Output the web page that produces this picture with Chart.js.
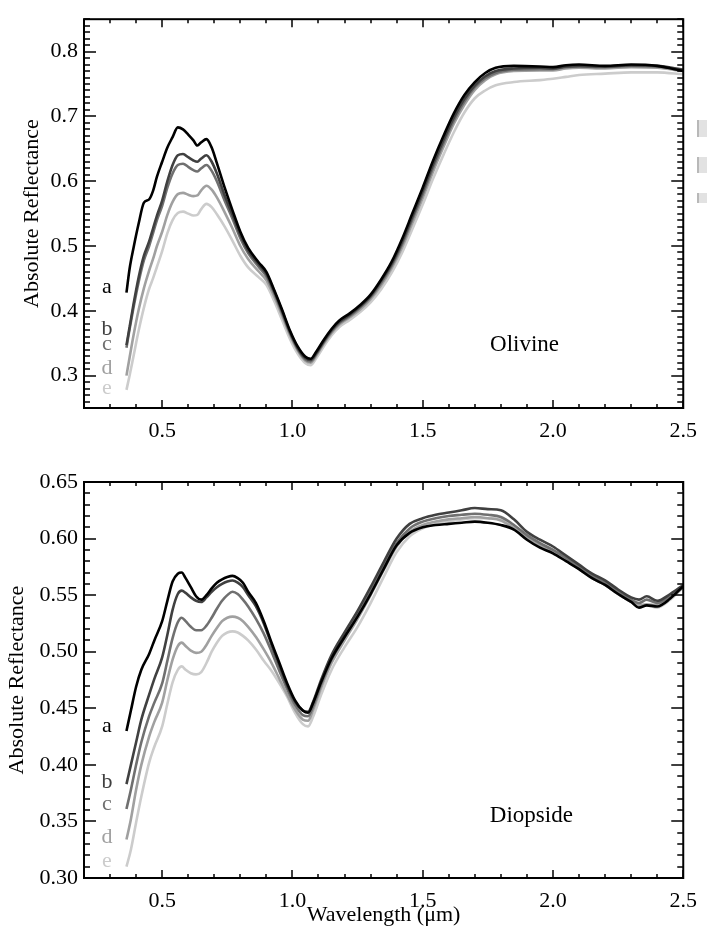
<!DOCTYPE html>
<html>
<head>
<meta charset="utf-8">
<title>Olivine / Diopside reflectance</title>
<script src="https://cdn.jsdelivr.net/npm/chart.js@4.4.1/dist/chart.umd.min.js"></script>
<style>
  body { margin: 0; background: #fff; }
  #wrap { position: relative; width: 707px; height: 934px; overflow: hidden; }
  canvas { position: absolute; left: 0; }
  #top { top: 0; }
  #bottom { top: 460px; }
  .edge { position: absolute; left: 697px; width: 10px; background: #e2e2e2; border-left: 2px solid #b8b8b8; }
</style>
</head>
<body>
<div id="wrap">
  <canvas id="top" width="707" height="460"></canvas>
  <canvas id="bottom" width="707" height="474"></canvas>
  <div class="edge" style="top:120px;height:17px"></div>
  <div class="edge" style="top:157px;height:16px"></div>
  <div class="edge" style="top:193px;height:10px"></div>
</div>
<script>
// Spectra (wavelength in µm, absolute reflectance)
const sampleNames = ['a', 'b', 'c', 'd', 'e'];
const sampleColors = ['#000000', '#404040', '#707070', '#a0a0a0', '#cccccc'];

// labelled tick values
const wavelengthTicks = [0.5, 1.0, 1.5, 2.0, 2.5];
const olivineTicksY = [0.3, 0.4, 0.5, 0.6, 0.7, 0.8];
const diopsideTicksY = [0.30, 0.35, 0.40, 0.45, 0.50, 0.55, 0.60, 0.65];

const wavelengthOl = [
  0.363, 0.375, 0.39, 0.41, 0.43, 0.45, 0.465, 0.48, 0.50, 0.52,
  0.54, 0.56, 0.58, 0.60, 0.62, 0.635, 0.65, 0.67, 0.69, 0.71,
  0.74, 0.77, 0.80, 0.83, 0.87, 0.90, 0.93, 0.96, 0.99, 1.02,
  1.05, 1.07, 1.09, 1.12, 1.15, 1.18, 1.22, 1.26, 1.30, 1.34,
  1.38, 1.42, 1.46, 1.50, 1.54, 1.58, 1.62, 1.66, 1.70, 1.74,
  1.78, 1.85, 1.95, 2.00, 2.05, 2.10, 2.20, 2.30, 2.40, 2.50
];
const olivineA = [
  0.428, 0.465, 0.497, 0.535, 0.567, 0.572, 0.585, 0.607, 0.630, 0.652,
  0.668, 0.683, 0.680, 0.672, 0.663, 0.655, 0.660, 0.665, 0.652, 0.628,
  0.590, 0.555, 0.522, 0.497, 0.475, 0.460, 0.432, 0.402, 0.370, 0.345,
  0.329, 0.326, 0.336, 0.355, 0.372, 0.385, 0.396, 0.409, 0.425, 0.448,
  0.475, 0.510, 0.550, 0.590, 0.632, 0.670, 0.705, 0.733, 0.753, 0.767,
  0.775, 0.778, 0.777, 0.776, 0.779, 0.780, 0.778, 0.780, 0.778, 0.770
];
const olivineB = [
  0.347, 0.375, 0.410, 0.452, 0.485, 0.507, 0.527, 0.547, 0.570, 0.600,
  0.625, 0.640, 0.642, 0.637, 0.632, 0.630, 0.635, 0.640, 0.630, 0.612,
  0.578, 0.548, 0.517, 0.493, 0.472, 0.457, 0.430, 0.400, 0.368, 0.343,
  0.327, 0.324, 0.334, 0.353, 0.370, 0.383, 0.394, 0.407, 0.423, 0.446,
  0.472, 0.506, 0.545, 0.585, 0.626, 0.664, 0.699, 0.727, 0.748, 0.762,
  0.770, 0.774, 0.775, 0.774, 0.777, 0.778, 0.777, 0.779, 0.778, 0.772
];
const olivineC = [
  0.343, 0.372, 0.405, 0.445, 0.478, 0.500, 0.520, 0.540, 0.562, 0.590,
  0.612, 0.625, 0.627, 0.622, 0.617, 0.615, 0.620, 0.625, 0.616, 0.600,
  0.570, 0.542, 0.512, 0.489, 0.468, 0.453, 0.427, 0.397, 0.366, 0.341,
  0.325, 0.322, 0.332, 0.351, 0.368, 0.381, 0.392, 0.405, 0.421, 0.443,
  0.469, 0.502, 0.541, 0.580, 0.621, 0.659, 0.694, 0.723, 0.745, 0.759,
  0.767, 0.772, 0.773, 0.773, 0.776, 0.777, 0.776, 0.778, 0.777, 0.771
];
const olivineD = [
  0.300, 0.328, 0.362, 0.402, 0.435, 0.462, 0.480, 0.500, 0.522, 0.548,
  0.568, 0.580, 0.582, 0.579, 0.577, 0.578, 0.586, 0.593, 0.587, 0.575,
  0.552, 0.527, 0.500, 0.480, 0.461, 0.447, 0.422, 0.393, 0.363, 0.339,
  0.323, 0.320, 0.330, 0.349, 0.366, 0.379, 0.390, 0.402, 0.418, 0.439,
  0.465, 0.497, 0.535, 0.574, 0.615, 0.653, 0.689, 0.718, 0.741, 0.756,
  0.765, 0.770, 0.771, 0.771, 0.774, 0.775, 0.774, 0.776, 0.775, 0.770
];
const olivineE = [
  0.278, 0.300, 0.330, 0.370, 0.405, 0.434, 0.450, 0.468, 0.492, 0.520,
  0.540, 0.551, 0.553, 0.550, 0.547, 0.548, 0.557, 0.565, 0.560, 0.549,
  0.530, 0.508, 0.485, 0.467, 0.452, 0.440, 0.415, 0.386, 0.357, 0.334,
  0.319, 0.316, 0.326, 0.345, 0.362, 0.375, 0.386, 0.398, 0.413, 0.433,
  0.458, 0.489, 0.526, 0.564, 0.604, 0.641, 0.676, 0.706, 0.728, 0.740,
  0.748, 0.753, 0.756, 0.758, 0.761, 0.764, 0.766, 0.768, 0.768, 0.765
];

const wavelengthDi = [
  0.363, 0.38, 0.40, 0.42, 0.45, 0.47, 0.50, 0.52, 0.54, 0.56,
  0.575, 0.59, 0.61, 0.63, 0.65, 0.67, 0.69, 0.71, 0.73, 0.75,
  0.77, 0.79, 0.81, 0.83, 0.86, 0.89, 0.92, 0.95, 0.98, 1.01,
  1.04, 1.06, 1.08, 1.11, 1.15, 1.20, 1.25, 1.30, 1.35, 1.40,
  1.45, 1.50, 1.55, 1.60, 1.65, 1.70, 1.75, 1.80, 1.85, 1.90,
  1.95, 2.00, 2.05, 2.10, 2.15, 2.20, 2.25, 2.30, 2.33, 2.36,
  2.40, 2.45, 2.50
];
const diopsideA = [
  0.430, 0.448, 0.469, 0.484, 0.498, 0.510, 0.527, 0.545, 0.562, 0.569,
  0.570, 0.565, 0.557, 0.549, 0.546, 0.550, 0.556, 0.561, 0.564, 0.566,
  0.567, 0.565, 0.561, 0.553, 0.543, 0.527, 0.508, 0.490, 0.472, 0.457,
  0.448, 0.446, 0.455, 0.473, 0.494, 0.513, 0.531, 0.551, 0.573, 0.594,
  0.605, 0.610, 0.612, 0.613, 0.614, 0.615, 0.614, 0.612, 0.608, 0.599,
  0.592, 0.587, 0.580, 0.573, 0.565, 0.559, 0.551, 0.544, 0.539, 0.541,
  0.540, 0.547, 0.558
];
const diopsideB = [
  0.383, 0.400, 0.420, 0.440, 0.462, 0.476, 0.495, 0.515, 0.537, 0.551,
  0.554, 0.552, 0.548, 0.545, 0.544, 0.548, 0.553, 0.557, 0.560, 0.562,
  0.563, 0.561, 0.557, 0.550, 0.540, 0.525, 0.506, 0.488, 0.470, 0.456,
  0.448, 0.447, 0.456, 0.475, 0.497, 0.517, 0.536, 0.557, 0.579, 0.600,
  0.613, 0.618, 0.621, 0.623, 0.625, 0.627, 0.626, 0.625, 0.617, 0.606,
  0.599, 0.593, 0.585, 0.577, 0.569, 0.563, 0.555, 0.548, 0.546, 0.549,
  0.545, 0.551, 0.559
];
const diopsideC = [
  0.361, 0.378, 0.400, 0.420, 0.443, 0.455, 0.472, 0.492, 0.512, 0.526,
  0.530, 0.527, 0.522, 0.519, 0.519, 0.523, 0.530, 0.538, 0.545, 0.550,
  0.553, 0.551, 0.546, 0.540, 0.529, 0.516, 0.500, 0.483, 0.467, 0.453,
  0.444, 0.443, 0.452, 0.471, 0.493, 0.513, 0.532, 0.553, 0.575, 0.596,
  0.609, 0.615, 0.618, 0.620, 0.621, 0.622, 0.621, 0.619, 0.612, 0.603,
  0.596, 0.590, 0.583, 0.575, 0.567, 0.561, 0.553, 0.546, 0.543, 0.546,
  0.543, 0.549, 0.558
];
const diopsideD = [
  0.334, 0.352, 0.378, 0.400, 0.425, 0.438, 0.455, 0.475, 0.493, 0.505,
  0.508, 0.505, 0.501, 0.499, 0.500, 0.506, 0.514, 0.521, 0.527, 0.530,
  0.531, 0.530, 0.527, 0.522, 0.513, 0.502, 0.490, 0.476, 0.462, 0.449,
  0.440, 0.439, 0.449, 0.468, 0.490, 0.510, 0.529, 0.550, 0.572, 0.593,
  0.606, 0.612, 0.615, 0.617, 0.618, 0.619, 0.618, 0.616, 0.609, 0.601,
  0.594, 0.588, 0.581, 0.573, 0.565, 0.559, 0.551, 0.544, 0.541, 0.542,
  0.541, 0.548, 0.557
];
const diopsideE = [
  0.310, 0.325, 0.349, 0.372, 0.402, 0.416, 0.434, 0.454, 0.473, 0.484,
  0.487, 0.484, 0.481, 0.480, 0.482, 0.490, 0.500, 0.508, 0.514, 0.517,
  0.518, 0.517, 0.514, 0.510, 0.502, 0.492, 0.483, 0.472, 0.460, 0.446,
  0.436, 0.434, 0.443, 0.462, 0.484, 0.504, 0.522, 0.543, 0.566, 0.588,
  0.602, 0.609, 0.613, 0.615, 0.617, 0.618, 0.618, 0.617, 0.611, 0.603,
  0.596, 0.590, 0.582, 0.574, 0.566, 0.559, 0.551, 0.544, 0.541, 0.541,
  0.539, 0.546, 0.557
];

const SERIF = '"Liberation Serif", "Times New Roman", "DejaVu Serif", serif';

// IDL-style frame: box, inward ticks on all four sides, sample letters, mineral name
function eachTick(min, max, minor, major, fn) {
    const n0 = Math.ceil(min / minor - 1e-9);
    const n1 = Math.floor(max / minor + 1e-9);
    for (let n = n0; n <= n1; n++) {
        const v = n * minor;
        const r = v / major;
        fn(v, Math.abs(r - Math.round(r)) < 1e-6);
    }
}

const idlFrame = {
    id: 'idlFrame',
    afterDatasetsDraw(chart, args, opts) {
        const { ctx, chartArea: { left, right, top, bottom } } = chart;
        const xs = chart.scales.x;
        const ys = chart.scales.y;
        ctx.save();
        ctx.strokeStyle = '#000';
        ctx.lineWidth = 1.5;
        ctx.beginPath();
        eachTick(xs.min, xs.max, opts.xMinor, opts.xMajor, (v, major) => {
            const px = Math.round(xs.getPixelForValue(v));
            const len = major ? 8 : 4;
            ctx.moveTo(px, bottom); ctx.lineTo(px, bottom - len);
            ctx.moveTo(px, top); ctx.lineTo(px, top + len);
        });
        eachTick(ys.min, ys.max, opts.yMinor, opts.yMajor, (v, major) => {
            const py = Math.round(ys.getPixelForValue(v));
            const len = major ? 12 : 6;
            ctx.moveTo(left, py); ctx.lineTo(left + len, py);
            ctx.moveTo(right, py); ctx.lineTo(right - len, py);
        });
        ctx.stroke();
        ctx.lineWidth = 2;
        ctx.strokeRect(left, top, right - left, bottom - top);

        // sample letters a..e
        ctx.font = '22px ' + SERIF;
        ctx.textAlign = 'center';
        ctx.textBaseline = 'middle';
        opts.tagY.forEach((y, i) => {
            ctx.fillStyle = sampleColors[i];
            ctx.fillText(sampleNames[i], xs.getPixelForValue(opts.tagX), ys.getPixelForValue(y));
        });

        // mineral name
        ctx.font = '23px ' + SERIF;
        ctx.fillStyle = '#000';
        ctx.fillText(opts.name, xs.getPixelForValue(opts.nameX), ys.getPixelForValue(opts.nameY));
        ctx.restore();
    }
};

function buildDatasets(wl, series) {
    return series.map((vals, i) => ({
        label: sampleNames[i],
        data: wl.map((w, k) => ({ x: w, y: vals[k] })),
        borderColor: sampleColors[i],
        borderWidth: 2.6,
        pointRadius: 0,
        cubicInterpolationMode: 'monotone',
        fill: false
    }));
}

function makeChart(canvasId, cfg) {
    const tickFont = { family: SERIF, size: 22 };
    return new Chart(document.getElementById(canvasId), {
        type: 'line',
        data: { datasets: buildDatasets(cfg.wl, cfg.series) },
        options: {
            responsive: false,
            animation: false,
            devicePixelRatio: 1,
            layout: { padding: { top: cfg.padTop, right: 19, left: 0, bottom: 0 } },
            plugins: {
                legend: { display: false },
                tooltip: { enabled: false },
                idlFrame: cfg.frame
            },
            scales: {
                x: {
                    type: 'linear',
                    min: 0.2,
                    max: 2.5,
                    grid: { display: false, drawTicks: false },
                    border: { display: false },
                    afterBuildTicks: s => { s.ticks = wavelengthTicks.map(v => ({ value: v })); },
                    ticks: {
                        padding: 10,
                        color: '#000',
                        font: tickFont,
                        maxRotation: 0,
                        autoSkip: false,
                        callback: v => v.toFixed(1)
                    },
                    title: {
                        display: cfg.xTitle,
                        text: 'Wavelength (\u03bcm)',
                        color: '#000',
                        font: { family: SERIF, size: 22 },
                        padding: { top: 0, bottom: 6 }
                    },
                    afterFit: s => { s.height = cfg.xHeight; }
                },
                y: {
                    min: cfg.yMin,
                    max: cfg.yMax,
                    grid: { display: false, drawTicks: false },
                    border: { display: false },
                    afterBuildTicks: s => { s.ticks = cfg.yTicks.map(v => ({ value: v })); },
                    ticks: {
                        padding: 6,
                        color: '#000',
                        font: tickFont,
                        autoSkip: false,
                        callback: v => v.toFixed(cfg.yDigits)
                    },
                    title: {
                        display: true,
                        text: 'Absolute Reflectance',
                        color: '#000',
                        font: { family: SERIF, size: 22 },
                        padding: { top: cfg.yTitlePad, bottom: 0 }
                    },
                    afterFit: s => { s.width = 84; }
                }
            }
        },
        plugins: [idlFrame]
    });
}

makeChart('top', {
    wl: wavelengthOl,
    series: [olivineA, olivineB, olivineC, olivineD, olivineE],
    padTop: 13,
    xHeight: 52,
    xTitle: false,
    yMin: 0.25, yMax: 0.85, yTicks: olivineTicksY, yDigits: 1,
    yTitlePad: 19,
    frame: {
        xMinor: 0.1, xMajor: 0.5, yMinor: 0.01, yMajor: 0.1,
        tagX: 0.288, tagY: [0.436, 0.371, 0.348, 0.311, 0.280],
        name: 'Olivine', nameX: 1.891, nameY: 0.348
    }
});

makeChart('bottom', {
    wl: wavelengthDi,
    series: [diopsideA, diopsideB, diopsideC, diopsideD, diopsideE],
    padTop: 22,
    xHeight: 56,
    xTitle: true,
    yMin: 0.30, yMax: 0.65, yTicks: diopsideTicksY, yDigits: 2,
    yTitlePad: 4,
    frame: {
        xMinor: 0.1, xMajor: 0.5, yMinor: 0.01, yMajor: 0.05,
        tagX: 0.288, tagY: [0.434, 0.385, 0.365, 0.336, 0.315],
        name: 'Diopside', nameX: 1.917, nameY: 0.355
    }
});
</script>
</body>
</html>
